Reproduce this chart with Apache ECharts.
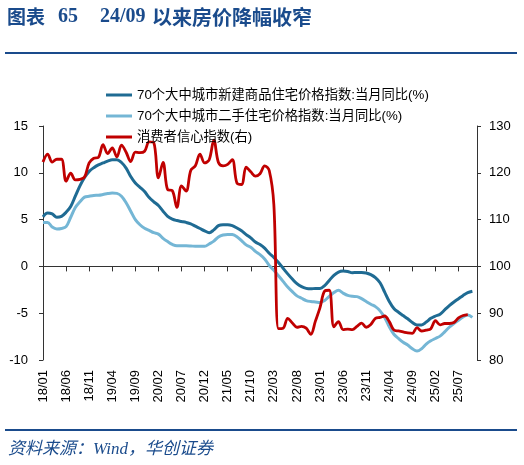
<!DOCTYPE html>
<html><head><meta charset="utf-8">
<script src="https://cdn.jsdelivr.net/npm/echarts@6/dist/echarts.min.js"></script>
<style>html,body{margin:0;padding:0;background:#fff}#c{width:524px;height:465px}</style>
</head><body><div id="c"></div>
<script>
// month labels 18/01 .. 25/11
const categories = [];
for (let k = 0; k < 95; k++) {
  const y = 18 + Math.floor(k / 12), m = k % 12 + 1;
  categories.push(y + '/' + (m < 10 ? '0' + m : m));
}
const nameNew = '70个大中城市新建商品住宅价格指数:当月同比(%)';
const nameSecond = '70个大中城市二手住宅价格指数:当月同比(%)';
const nameConf = '消费者信心指数(右)';

const newHome = [5.3,5.7,5.6,5.25,5.35,5.78,6.4,7.5,8.6,9.5,
10.15,10.55,10.85,11.05,11.25,11.4,11.4,11.1,10.5,9.6,
8.9,8.45,8.0,7.35,6.9,6.5,5.9,5.35,5.05,4.9,
4.8,4.7,4.55,4.3,4.05,3.8,3.6,3.9,4.35,4.45,
4.45,4.35,4.1,3.8,3.4,3.05,2.6,2.35,1.95,1.4,
0.95,0.42,-0.2,-0.8,-1.35,-1.85,-2.17,-2.35,-2.4,-2.35,
-2.35,-2.05,-1.5,-0.95,-0.6,-0.5,-0.55,-0.67,-0.65,-0.65,
-0.7,-0.88,-1.2,-1.75,-2.75,-3.75,-4.5,-4.9,-5.25,-5.6,
-6.0,-6.25,-6.25,-5.95,-5.55,-5.3,-5.1,-4.65,-4.2,-3.8,
-3.45,-3.1,-2.8,-2.65];

const secondHand = [4.7,4.7,4.2,4.0,4.05,4.25,5.25,6.3,6.9,7.4,
7.5,7.58,7.6,7.68,7.78,7.84,7.8,7.5,6.8,5.9,
5.0,4.45,4.08,3.85,3.6,3.45,3.0,2.65,2.35,2.2,
2.2,2.2,2.18,2.15,2.14,2.14,2.4,2.7,3.15,3.35,
3.42,3.4,3.18,2.75,2.3,2.05,1.6,1.25,0.8,0.1,
-0.4,-1.0,-1.6,-2.2,-2.7,-3.15,-3.4,-3.65,-3.75,-3.8,
-3.85,-3.65,-3.2,-2.8,-2.55,-2.85,-3.1,-3.2,-3.23,-3.45,
-3.75,-4.05,-4.3,-4.75,-5.45,-6.45,-7.25,-7.7,-8.1,-8.4,
-8.8,-9.05,-8.8,-8.3,-7.95,-7.7,-7.45,-7.0,-6.5,-6.1,
-5.75,-5.4,-5.2,-5.45];

const confidence = [122.3,124.0,122.3,122.9,122.9,118.2,119.9,118.5,118.6,119.1,
122.1,123.1,123.3,126.0,124.1,125.3,123.4,125.9,124.4,122.4,
124.4,124.3,124.6,126.6,126.4,118.9,122.2,116.4,116.2,112.6,
117.2,116.1,120.5,121.5,124.0,122.1,122.8,127.0,122.2,121.5,
121.8,122.8,117.8,117.5,121.2,120.2,119.3,119.8,121.5,120.5,
113.2,86.7,86.8,88.9,87.9,87.0,87.2,86.8,85.5,88.3,
91.2,94.7,94.9,87.1,88.2,86.5,86.6,86.5,87.2,87.9,
87.0,87.6,88.9,89.1,89.4,88.2,86.4,86.2,86.0,85.8,
85.7,86.9,86.2,86.4,86.7,88.4,87.5,87.8,87.8,88.0,
89.0,89.5,89.7];

const leftTicks = {min: -10, max: 15, interval: 5};
const rightTicks = {min: 80, max: 130, interval: 10};

const navy = '#1A4B8C';
const cDark = '#1F6B93', cLight = '#74B6D5', cRed = '#C00000';
const sans = '"Liberation Sans", Arial, "Noto Sans CJK SC", sans-serif';
const cjk = '"Liberation Sans", "Noto Sans CJK SC", sans-serif';

const chart = echarts.init(document.getElementById('c'), null, {renderer: 'canvas'});
chart.setOption({
  animation: false,
  backgroundColor: '#fff',
  grid: {left: 43, right: 47, top: 126, bottom: 105},
  legend: {
    orient: 'vertical', left: 101, top: 83,
    itemWidth: 26, itemHeight: 3, itemGap: 7, icon: 'rect',
    selectedMode: false,
    textStyle: {fontSize: 13.3, lineHeight: 14, color: '#000', fontFamily: cjk},
    data: [nameNew, nameSecond, nameConf]
  },
  xAxis: [
    {type: 'category', data: categories, boundaryGap: false, position: 'bottom',
     axisLine: {show: false, onZero: false}, axisTick: {show: false},
     axisLabel: {interval: 4, rotate: 90, margin: 10, fontSize: 13, color: '#000', fontFamily: sans}},
    {type: 'category', data: categories, boundaryGap: false, position: 'bottom',
     axisLine: {show: true, onZero: true, lineStyle: {color: '#333', width: 1}},
     axisTick: {show: true, interval: 4, length: 5, lineStyle: {color: '#333'}},
     axisLabel: {show: false}}
  ],
  yAxis: [
    {type: 'value', min: leftTicks.min, max: leftTicks.max, interval: leftTicks.interval, position: 'left',
     axisLine: {show: true, lineStyle: {color: '#333'}}, axisTick: {show: true, length: 4, lineStyle: {color: '#333'}},
     splitLine: {show: false}, axisLabel: {margin: 15, fontSize: 13, color: '#000', fontFamily: sans}},
    {type: 'value', min: rightTicks.min, max: rightTicks.max, interval: rightTicks.interval, position: 'right',
     axisLine: {show: true, lineStyle: {color: '#333'}}, axisTick: {show: true, length: 4, lineStyle: {color: '#333'}},
     splitLine: {show: false}, axisLabel: {margin: 12, fontSize: 13, color: '#000', fontFamily: sans}}
  ],
  series: [
    {name: nameNew, type: 'line', data: newHome, xAxisIndex: 0, yAxisIndex: 0, showSymbol: false, smooth: 0.35,
     lineStyle: {width: 3, color: cDark}, itemStyle: {color: cDark}},
    {name: nameSecond, type: 'line', data: secondHand, xAxisIndex: 0, yAxisIndex: 0, showSymbol: false, smooth: 0.35,
     lineStyle: {width: 3, color: cLight}, itemStyle: {color: cLight}},
    {name: nameConf, type: 'line', data: confidence, xAxisIndex: 0, yAxisIndex: 1, showSymbol: false, smooth: 0.35,
     lineStyle: {width: 2.8, color: cRed}, itemStyle: {color: cRed}}
  ],
  graphic: [
    {type: 'text', x: 7, y: 17, style: {text: '图表', font: 'bold 19px "Noto Sans CJK SC", sans-serif', fill: navy, verticalAlign: 'middle'}},
    {type: 'text', x: 58, y: 17, style: {text: '65', font: 'bold 20px "Liberation Serif", serif', fill: navy, verticalAlign: 'middle'}},
    {type: 'text', x: 100, y: 17, style: {text: '24/09', font: 'bold 20px "Liberation Serif", serif', fill: navy, verticalAlign: 'middle'}},
    {type: 'text', x: 152, y: 17, style: {text: '以来房价降幅收窄', font: 'bold 20px "Noto Sans CJK SC", sans-serif', fill: navy, verticalAlign: 'middle'}},
    {type: 'rect', shape: {x: 5, y: 52, width: 512, height: 2}, style: {fill: navy}},
    {type: 'rect', shape: {x: 5, y: 429, width: 512, height: 2}, style: {fill: navy}},
    {type: 'text', x: 8, y: 450, style: {text: '资料来源：Wind，华创证券', font: 'italic 17px "Liberation Serif", "Noto Sans CJK SC", serif', fill: navy, verticalAlign: 'middle'}}
  ]
});
</script>
</body></html>
